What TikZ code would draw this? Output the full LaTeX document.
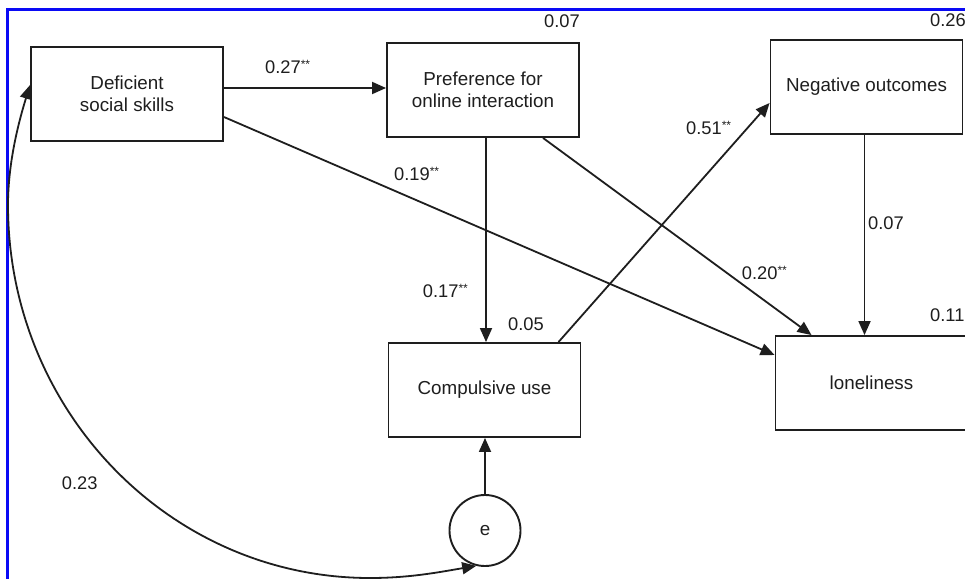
\documentclass[tikz,border=0pt]{standalone}
\usepackage{fontspec}
\setmainfont{Liberation Sans}
\usetikzlibrary{arrows.meta,calc}
\definecolor{ink}{RGB}{30,30,30}
\definecolor{frameblue}{RGB}{10,10,245}
\newcommand{\sigstars}{\raisebox{5pt}{\fontsize{12}{12}\selectfont **}}
\tikzset{
  box/.style={draw=ink, line width=1.9pt, minimum width=192pt, minimum height=94pt,
    inner sep=0pt, align=center, text=ink, font=\fontsize{18.8}{22.5}\selectfont},
  errc/.style={draw=ink, line width=1.9pt, circle, minimum size=71pt, inner sep=0pt,
    text=ink, font=\fontsize{18.8}{22}\selectfont},
  arr/.style={draw=ink, line width=1.8pt, -{Triangle[length=14pt,width=12pt]}},
  dbl/.style={draw=ink, line width=1.8pt, {Triangle[length=14pt,width=12pt]}-{Triangle[length=14pt,width=12pt]}},
  lbl/.style={inner sep=0pt, text=ink, font=\fontsize{18.3}{20}\selectfont},
}
\begin{document}
\begin{tikzpicture}[x=1pt,y=-1pt]
\useasboundingbox (0,0) rectangle (965,578);
\clip (0,0) rectangle (965,578);
\fill[white] (0,0) rectangle (965,578);
% frame
\draw[frameblue, line width=3pt] (7.5,590) -- (7.5,10) -- (980,10);
% nodes
\node[box] (dss) at (127,94) {Deficient\\social skills};
\node[box] (pref) at (483,90) {Preference for\\online interaction};
\node[box] (neg) at (866.5,87) {Negative outcomes};
\node[box] (comp) at (484.5,390) {Compulsive use};
\node[box] (lon) at (871.5,383) {loneliness};
\node[errc] (e) at (485,530.5) {e};
% connectors
\draw[arr] ([yshift=6pt]dss.east) -- ([yshift=6pt]dss.east -| pref.west);
\draw[arr] ([yshift=-23pt]dss.east) -- ([yshift=28pt]lon.west);
\draw[arr] ([xshift=3pt]pref.south) -- ([xshift=3pt]pref.south |- comp.north);
\draw[arr] ([xshift=60pt]pref.south) -- ([xshift=-60pt]lon.north);
\draw[arr] ([xshift=74pt]comp.north) -- ([yshift=-16pt]neg.west);
\draw[arr] ([xshift=-2pt]neg.south) -- ([xshift=-2pt]neg.south |- lon.north);
\draw[arr] (e.north) -- (e.north |- comp.south);
\draw[dbl] (e.256) .. controls (440,572) and (410,578) .. (370,578)
  .. controls (170,578) and (8,411) .. (8,205)
  .. controls (8,164) and (18,124) .. ([yshift=9pt]dss.west);
% labels
\node[lbl, anchor=base west] (l1) at (265,73.5) {0.27\sigstars};
\node[lbl, anchor=base west] (l2) at (394,180.5) {0.19\sigstars};
\node[lbl, anchor=base west] (l3) at (422.7,297.5) {0.17\sigstars};
\node[lbl, anchor=base west] (l4) at (508,330.5) {0.05};
\node[lbl, anchor=base west] (l5) at (686,134.5) {0.51\sigstars};
\node[lbl, anchor=base west] (l6) at (868,229.5) {0.07};
\node[lbl, anchor=base west] (l7) at (741.7,279) {0.20\sigstars};
\node[lbl, anchor=base west] (l8) at (930,321.5) {0.11};
\node[lbl, anchor=base west] (l9) at (61.7,489.5) {0.23};
\node[lbl, anchor=base west] (l10) at (544,27.5) {0.07};
\node[lbl, anchor=base east] (l11) at (966,26.5) {0.26};
\end{tikzpicture}
\end{document}
